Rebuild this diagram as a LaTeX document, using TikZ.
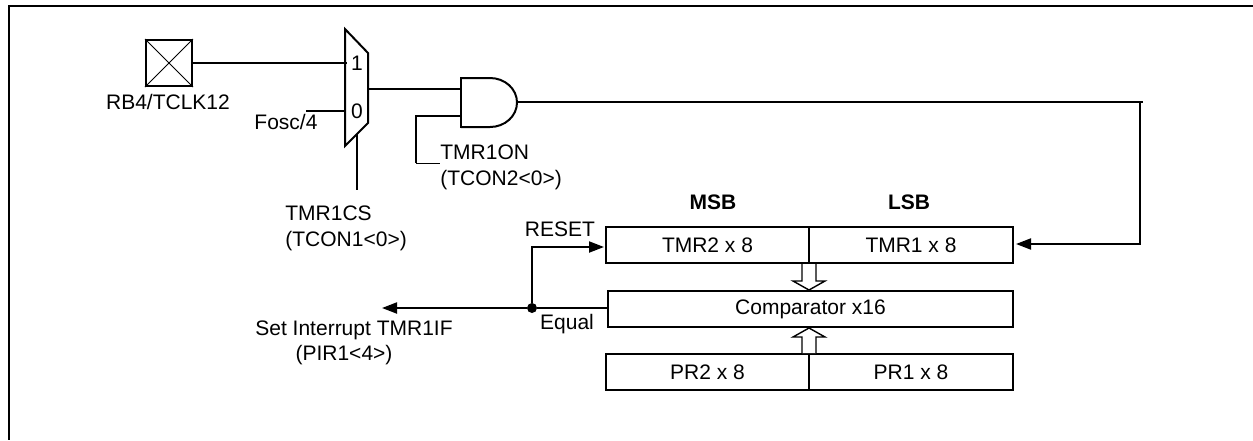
\documentclass[tikz,border=0pt]{standalone}
\usepackage{fontspec}
\setmainfont{Liberation Sans}
\usetikzlibrary{calc, positioning, arrows.meta}
\tikzstyle{txt}=[inner sep=0pt, font=\fontsize{10.5}{13}\selectfont]
\tikzstyle{reg}=[txt, draw, line width=1pt, minimum height=18pt]
\tikzstyle{wire}=[line width=1pt]
\tikzstyle{thin wire}=[line width=.5pt]
\tikzstyle{bus}=[line width=.7pt, line join=miter]
\tikzset{>={Stealth[length=7.5pt, width=5.5pt, inset=0pt]}}

\begin{document}
\begin{tikzpicture}[x=.5pt, y=-.5pt]
\useasboundingbox (0,0) rectangle (1253,440);

\coordinate (F1) at (1253,6);
\coordinate (F2) at (9,6);
\coordinate (F3) at (9,440);
\draw[wire] (F1) -- (F2) -- (F3);

\node[wire, draw, minimum size=23pt, inner sep=0pt] (P) at (169,63) {};
\node[txt] (Pl) at (168,102) {RB4/TCLK12};
\draw[thin wire] (P.north west) -- (P.south east);
\draw[thin wire] (P.north east) -- (P.south west);

\coordinate (M1) at (345,29);
\coordinate (M2) at (368,53);
\coordinate (M3) at (368,123);
\coordinate (M4) at (345,146);
\coordinate (Mi1) at (347,63);
\coordinate (Mi0) at (345,111);
\coordinate (Mo) at (368,89);
\coordinate (Ms) at (357,134);
\draw[wire] (M1) -- (M2) -- (M3) -- (M4) -- cycle;
\node[txt] (N1) at (357,63) {1};
\node[txt] (N0) at (357,111) {0};

\coordinate (Fi) at (306,111);
\node[txt] (Fl) at (286,122) {Fosc/4};
\coordinate (Se) at (357,190);
\node[txt, align=left, anchor=west] (Sl) at (285,228) {TMR1CS\\(TCON1<0>)};

\draw[wire] (P) -- (Mi1);
\draw[wire] (Fi) -- (Mi0);
\draw[wire] (Ms) -- (Se);

\coordinate (A1) at (461,77);
\coordinate (A2) at (461,128);
\coordinate (Ai1) at (461,89);
\coordinate (Ai2) at (461,116);
\coordinate (Ao) at (517,102);
\draw[wire] (A2) -- (A1);
\draw[wire] (461,78) -- (490,78) .. controls (505,78) and (517,89) .. (517,102.5) .. controls (517,116) and (505,127) .. (490,127) -- (461,127);

\coordinate (Ec) at (416,116);
\coordinate (Ed) at (416,163);
\coordinate (Ee) at (440,163);
\node[txt, align=left, anchor=west] (El) at (440,167) {TMR1ON\\(TCON2<0>)};

\draw[wire] (Mo) -- (Ai1);
\draw[wire] (Ai2) -- (Ec) -- (Ed);
\draw[thin wire] (Ed) -- (Ee);

\node[txt, font=\fontsize{10.5}{13}\selectfont\bfseries] (MSB) at (713,202) {MSB};
\node[txt, font=\fontsize{10.5}{13}\selectfont\bfseries] (LSB) at (909,202) {LSB};
\node[reg, minimum width=101.5pt] (T2) at (707.5,245) {TMR2 x 8};
\node[reg, minimum width=102pt] (T1) at (911,245) {TMR1 x 8};
\node[reg, minimum width=202.5pt] (C) at (810.5,309) {Comparator x16};
\node[reg, minimum width=101.5pt] (R2) at (707.5,372) {PR2 x 8};
\node[reg, minimum width=102pt] (R1) at (911,372) {PR1 x 8};

\draw[bus, fill=white] (802,264) -- (802,281) -- (793,281) -- (809,290) -- (825,281) -- (816,281) -- (816,264);
\draw[bus, fill=white] (802,353) -- (802,337) -- (793,337) -- (809,328) -- (825,337) -- (816,337) -- (816,353);

\coordinate (Tc) at (1143,102);
\coordinate (Td) at (1140,102);
\coordinate (Te) at (1016,244);
\draw[wire] (Ao) -- (Tc);
\draw[wire, ->] (Td) |- (Te);

\node[circle, fill=black, inner sep=0pt, minimum size=5pt] (J) at (532,308) {};
\coordinate (Ri) at (604,247);
\coordinate (Ir) at (382,308);
\draw[wire] (C.west |- J) -- (J);
\draw[wire, ->] (J) |- (Ri);
\draw[wire, ->] (J) -- (Ir);
\node[txt] (Rl) at (560,229) {RESET};
\node[txt] (Ql) at (567,324) {Equal};
\node[txt] (Il) at (354,330) {Set Interrupt TMR1IF};
\node[txt] (Pi) at (344,355) {(PIR1<4>)};
\end{tikzpicture}
\end{document}
